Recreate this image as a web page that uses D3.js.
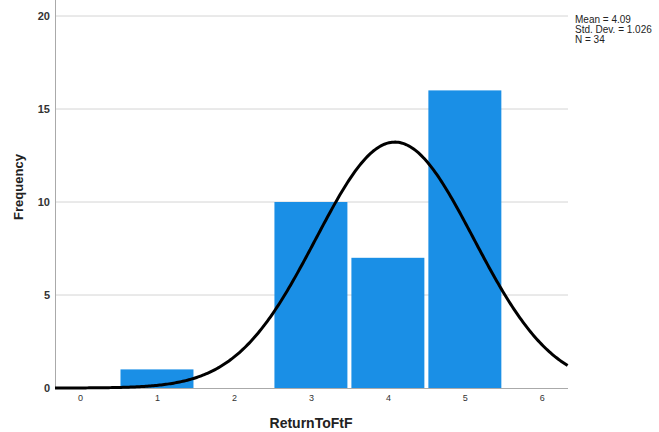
<!DOCTYPE html>
<html>
<head>
<meta charset="utf-8">
<script src="https://cdn.jsdelivr.net/npm/d3@7"></script>
<style>
  body { margin: 0; background: #fff; }
  svg { font-family: "Liberation Sans", Arial, sans-serif; }
</style>
</head>
<body>
<div id="chart"></div>
<script>
// histogram bins (midpoints) and counts
var binMids = [1, 3, 4, 5];
var counts = [1, 10, 7, 16];
var xTicks = [0, 1, 2, 3, 4, 5, 6];
var yTicks = [0, 5, 10, 15, 20];
var statLines = ["Mean = 4.09", "Std. Dev. = 1.026", "N = 34"];
var mean = 4.09, sd = 1.026, n = 34;

var width = 659, height = 432;
var plot = {left: 55, right: 568, top: 0, bottom: 388};

var svg = d3.select("#chart")
  .append("svg")
    .attr("width", width)
    .attr("height", height);

var x = d3.scaleLinear()
  .domain([-0.325, 6.34])
  .range([plot.left, plot.right]);

var y = d3.scaleLinear()
  .domain([0, 20])
  .range([plot.bottom, 16]);

// gridlines
svg.append("g")
  .selectAll("line")
  .data(yTicks.filter(function(d) { return d > 0; }))
  .enter()
  .append("line")
    .attr("x1", plot.left)
    .attr("x2", plot.right)
    .attr("y1", function(d) { return y(d); })
    .attr("y2", function(d) { return y(d); })
    .attr("stroke", "#d4d4d4")
    .attr("stroke-width", 1);

// bars
svg.append("g")
  .selectAll("rect")
  .data(binMids)
  .enter()
  .append("rect")
    .attr("x", function(d) { return x(d - 0.5) + 2; })
    .attr("width", function(d) { return x(d + 0.5) - x(d - 0.5) - 4; })
    .attr("y", function(d, i) { return y(counts[i]); })
    .attr("height", function(d, i) { return y(0) - y(counts[i]); })
    .attr("fill", "#1a8fe6");

// axes
var yAxis = svg.append("g")
  .attr("transform", "translate(" + plot.left + ",0)")
  .call(d3.axisLeft(y).tickValues(yTicks).tickSize(0).tickPadding(5));
yAxis.select(".domain").remove();
yAxis.selectAll("text")
  .attr("fill", "#333")
  .style("font-size", "11px")
  .style("font-weight", "bold");

svg.append("line")
  .attr("x1", plot.left + 0.5).attr("x2", plot.left + 0.5)
  .attr("y1", 0).attr("y2", plot.bottom)
  .attr("stroke", "#aaa");

var xAxis = svg.append("g")
  .attr("transform", "translate(0," + plot.bottom + ")")
  .call(d3.axisBottom(x).tickValues(xTicks).tickSize(0).tickPadding(7).tickFormat(d3.format("d")));
xAxis.select(".domain").remove();
xAxis.selectAll("text")
  .attr("fill", "#333")
  .style("font-size", "9px");

svg.append("line")
  .attr("x1", plot.left).attr("x2", plot.right)
  .attr("y1", plot.bottom + 0.5).attr("y2", plot.bottom + 0.5)
  .attr("stroke", "#aaa");

// normal curve from the stated mean / sd
var curvePts = d3.range(x.domain()[0], x.domain()[1] + 0.001, 0.02).map(function(v) {
  var z = (v - mean) / sd;
  return [v, n * Math.exp(-0.5 * z * z) / (sd * Math.sqrt(2 * Math.PI))];
});

svg.append("path")
  .datum(curvePts)
  .attr("fill", "none")
  .attr("stroke", "#000")
  .attr("stroke-width", 3)
  .attr("d", d3.line()
    .x(function(d) { return x(d[0]); })
    .y(function(d) { return y(d[1]); }));

// axis titles
svg.append("text")
  .attr("x", 311)
  .attr("y", 428)
  .attr("text-anchor", "middle")
  .style("font-size", "14px")
  .style("font-weight", "bold")
  .attr("fill", "#222")
  .text("ReturnToFtF");

svg.append("text")
  .attr("transform", "translate(23,187) rotate(-90)")
  .attr("text-anchor", "middle")
  .style("font-size", "13px")
  .style("font-weight", "bold")
  .attr("fill", "#222")
  .text("Frequency");

// stats box
svg.append("g")
  .selectAll("text")
  .data(statLines)
  .enter()
  .append("text")
    .attr("x", 575)
    .attr("y", function(d, i) { return 23 + i * 10; })
    .style("font-size", "10px")
    .attr("fill", "#222")
    .text(function(d) { return d; });
</script>
</body>
</html>
